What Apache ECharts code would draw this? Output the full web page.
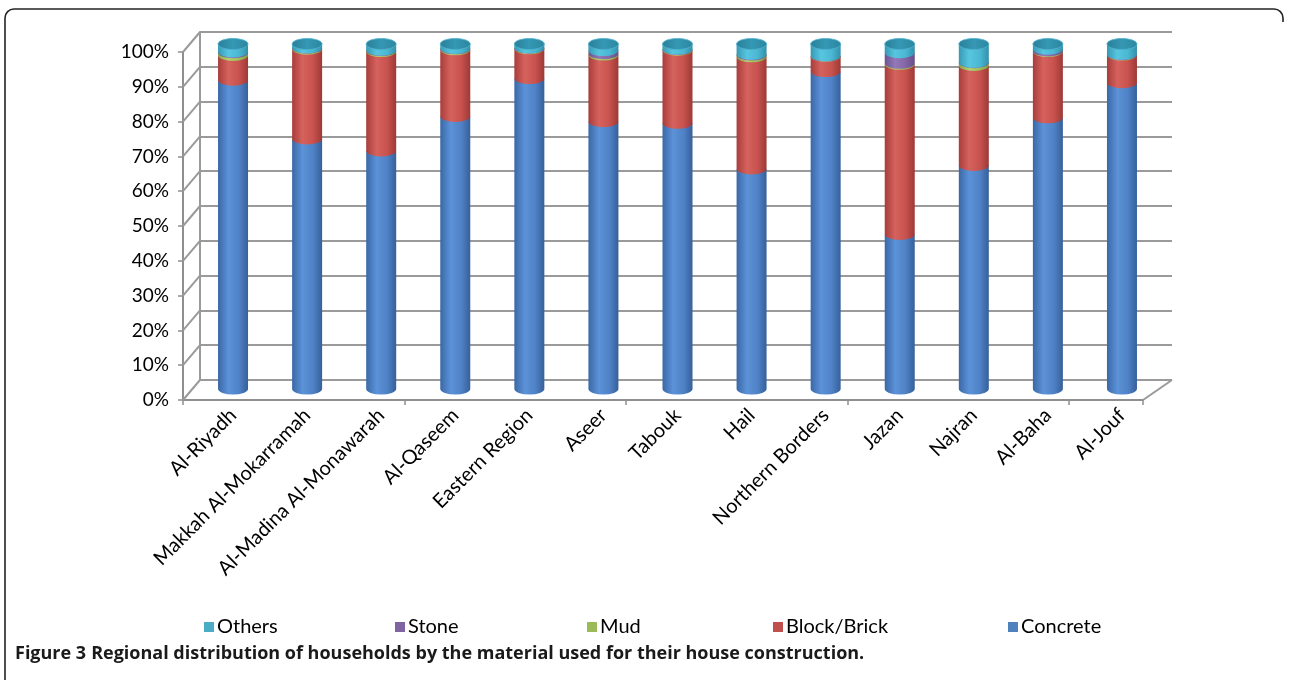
<!DOCTYPE html>
<html><head><meta charset="utf-8">
<script src="https://cdn.jsdelivr.net/npm/echarts@6.0.0/dist/echarts.min.js"></script>
<style>html,body{margin:0;padding:0;background:#fff}#c{width:1289px;height:680px}</style>
</head><body><div id="c"></div>
<script>
const categories = ['Al-Riyadh','Makkah Al-Mokarramah','Al-Madina Al-Monawarah','Al-Qaseem','Eastern Region','Aseer','Tabouk','Hail','Northern Borders','Jazan','Najran','Al-Baha','Al-Jouf'];
const concrete = [89.5, 72.5, 69.0, 79.0, 90.0, 77.5, 77.0, 63.8, 92.0, 44.8, 64.8, 78.6, 88.8];
const brick    = [ 7.2, 26.0, 28.8, 19.3,  8.6, 19.3, 21.2, 32.5,  4.4, 49.3, 29.0, 19.2,  8.0];
const mud      = [ 0.8,  0.3,  0.3,  0.3,  0.2,  0.4,  0.2,  0.5,  0.1,  0.3,  0.8,  0.2,  0.1];
const stone    = [ 0.2,  0.1,  0.1,  0.1,  0.1,  0.9,  0.1,  0.2,  0.1,  3.1,  0.1,  0.5,  0.1];
const others   = [ 2.3,  1.1,  1.8,  1.3,  1.1,  1.9,  1.5,  3.0,  3.4,  2.5,  5.3,  1.5,  3.0];
const yTicks = [0,10,20,30,40,50,60,70,80,90,100];

const seriesDefs = [
  {name:'Concrete', data:concrete, base:'#4f81bd', g:['#3a68a6','#5c92d8','#4f82c6','#36609a']},
  {name:'Block/Brick', data:brick, base:'#c0504d', g:['#a83d3a','#d6625e','#c7524e','#9e3936']},
  {name:'Mud', data:mud, base:'#9bbb59', g:['#86a548','#b2d06c','#9fbf5a','#7f9c43']},
  {name:'Stone', data:stone, base:'#8064a2', g:['#6c5290','#9479b8','#8266a6','#664d88']},
  {name:'Others', data:others, base:'#4bacc6', g:['#3799b4','#58c6e0','#4bb7d2','#3190aa']}
];
const FONT = 'Lato';

// cumulative stacking table
const cum = categories.map(()=>0);
const tables = seriesDefs.map(d => d.data.map((v,i) => { const s = cum[i]; cum[i] += v; return [i, s, cum[i]]; }));

function grad(c){
  return {type:'linear', x:0, y:0, x2:1, y2:0, colorStops:[
    {offset:0,color:c[0]},{offset:0.35,color:c[1]},{offset:0.7,color:c[2]},{offset:1,color:c[3]}]};
}

function makeRender(def, isTop){
  return function(params, api){
    const i = api.value(0), s = api.value(1), e = api.value(2);
    const pT = api.coord([i, e]);
    const pB = api.coord([i, s]);
    const bw = api.size([1,0])[0] * 0.405;
    const rx = bw/2, ry = 5.5;
    const cx = pT[0];
    const d = 'M'+(cx-rx)+' '+pT[1]+' L'+(cx+rx)+' '+pT[1]+' L'+(cx+rx)+' '+pB[1]+
      ' A'+rx+' '+ry+' 0 0 1 '+(cx-rx)+' '+pB[1]+' Z';
    const children = [{type:'path', shape:{pathData:d}, style:{fill:grad(def.g)}}];
    if (isTop){
      children.push({type:'ellipse', shape:{cx:cx, cy:pT[1], rx:rx, ry:ry}, style:{
        fill:{type:'linear', x:0, y:0, x2:1, y2:0, colorStops:[{offset:0,color:'#2a7f99'},{offset:0.5,color:'#3598b4'},{offset:1,color:'#2c86a0'}]},
        stroke:'#4fb3cd', lineWidth:0.8}});
    }
    return {type:'group', children};
  };
}

const chart = echarts.init(document.getElementById('c'), null, {renderer:'canvas'});
const FRONT = {left:183, top:52, width:960, height:348};
const BACK  = {left:200, top:32, width:972, height:348};
const BARS  = {left:196, top:44, width:963, height:345};

const series = seriesDefs.map((def, k) => ({
  type:'custom', name:def.name, xAxisIndex:2, yAxisIndex:2,
  itemStyle:{color:def.base}, data:tables[k], z:10+k, silent:true,
  renderItem: makeRender(def, k === seriesDefs.length-1)
}));

// left wall connectors from front axis ticks to back wall
series.push({
  type:'custom', name:'wall', xAxisIndex:0, yAxisIndex:0, silent:true, z:3,
  data: yTicks.map(v=>[0,v]),
  renderItem: function(params, api){
    const p = api.coord([0, api.value(1)]);
    const x0 = params.coordSys.x;
    const kids = [{type:'line', shape:{x1:x0, y1:p[1], x2:x0+17, y2:p[1]-20}, style:{stroke:'#9a9a9a', lineWidth:2}}];
    if (api.value(1) === 0){
      const xr = params.coordSys.x + params.coordSys.width;
      kids.push({type:'line', shape:{x1:xr, y1:p[1], x2:xr+29, y2:p[1]-20}, style:{stroke:'#9a9a9a', lineWidth:2}});
    }
    return {type:'group', children:kids};
  }
});

const legendNames = ['Others','Stone','Mud','Block/Brick','Concrete'];
const legendLeft = [199, 390, 582, 768, 1003];

chart.setOption({
  animation:false,
  backgroundColor:'#fff',
  title:{
    text:'{b|Figure 3} {n|Regional distribution of households by the material used for their house construction.}',
    left:10, top:640,
    textStyle:{rich:{
      b:{fontFamily:'Open Sans', fontWeight:'bold', fontSize:18, color:'#1a1a1a'},
      n:{fontFamily:'Open Sans', fontWeight:'bold', fontSize:18, color:'#1a1a1a'}
    }}
  },
  legend: legendNames.map((n,k)=>({
    data:[n], left:legendLeft[k], top:612, icon:'rect', itemWidth:10, itemHeight:10,
    selectedMode:false, textStyle:{fontFamily:FONT, fontSize:20, color:'#000', padding:[0,0,0,-2]}
  })),
  grid:[
    Object.assign({outerBoundsMode:'none', containLabel:false}, FRONT),
    Object.assign({outerBoundsMode:'none', containLabel:false}, BACK),
    Object.assign({outerBoundsMode:'none', containLabel:false}, BARS)
  ],
  xAxis:[
    {type:'category', gridIndex:0, data:categories, boundaryGap:true,
     axisLine:{show:true, lineStyle:{color:'#8f8f8f', width:2}},
     axisTick:{show:true, length:5, lineStyle:{color:'#8f8f8f', width:1.5}},
     axisLabel:{show:false}, splitLine:{show:false}},
    {type:'category', gridIndex:1, data:categories, show:false},
    {type:'category', gridIndex:2, data:categories,
     axisLine:{show:false}, axisTick:{show:false},
     axisLabel:{interval:0, rotate:45, margin:23, fontFamily:FONT, fontSize:20, color:'#000'}}
  ],
  yAxis:[
    {type:'value', gridIndex:0, min:0, max:100, interval:10,
     axisLine:{show:true, lineStyle:{color:'#8f8f8f', width:2}},
     axisTick:{show:true, length:5, lineStyle:{color:'#8f8f8f', width:1.5}},
     axisLabel:{formatter:'{value}%', margin:14, fontFamily:FONT, fontSize:19, color:'#000'},
     splitLine:{show:false}},
    {type:'value', gridIndex:1, min:0, max:100, interval:10,
     axisLine:{show:true, lineStyle:{color:'#9a9a9a', width:2}},
     axisTick:{show:false}, axisLabel:{show:false},
     splitLine:{show:true, lineStyle:{color:'#9a9a9a', width:2}}},
    {type:'value', gridIndex:2, min:0, max:100, interval:10, show:false}
  ],
  graphic:[
    {type:'polyline', silent:true, z:100, shape:{points:[[5,680],[5,18]]}, style:{fill:null, stroke:'#222', lineWidth:1.6}},
    {type:'arc', silent:true, z:100, shape:{cx:14, cy:18, r:9, startAngle:Math.PI, endAngle:Math.PI*1.5}, style:{fill:null, stroke:'#222', lineWidth:1.6}},
    {type:'polyline', silent:true, z:100, shape:{points:[[14,9],[1274,9]]}, style:{fill:null, stroke:'#222', lineWidth:1.6}},
    {type:'arc', silent:true, z:100, shape:{cx:1274, cy:18, r:9, startAngle:Math.PI*1.5, endAngle:Math.PI*2}, style:{fill:null, stroke:'#222', lineWidth:1.6}},
    {type:'polyline', silent:true, z:100, shape:{points:[[1283,18],[1283,22]]}, style:{fill:null, stroke:'#222', lineWidth:1.6}}
  ],
  series
});
</script></body></html>
